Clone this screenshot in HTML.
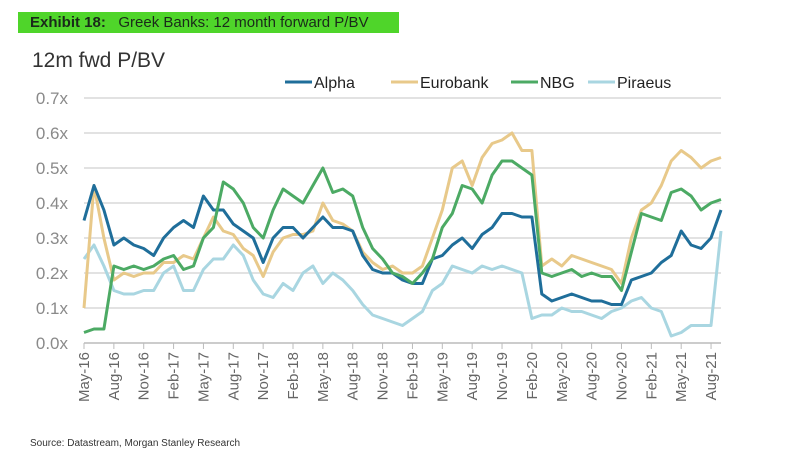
<!DOCTYPE html>
<html><head><meta charset="utf-8"><style>
body{margin:0;background:#fff;font-family:"Liberation Sans",Arial,sans-serif;}
#wrap{position:relative;width:787px;height:472px;overflow:hidden;background:#fff;}
</style></head><body>
<div id="wrap">
<div style="position:absolute;left:18px;top:12px;width:381px;height:21px;background:#4fd52a;font-size:15px;line-height:21px;color:#1a2a1a;padding-left:12px;box-sizing:border-box;"><b>Exhibit 18:</b>&nbsp;&nbsp; Greek Banks: 12 month forward P/BV</div>
<svg id="chart" width="787" height="472" style="position:absolute;left:0;top:0"></svg>
<div style="position:absolute;left:30px;top:438px;font-size:10px;color:#333;">Source: Datastream, Morgan Stanley Research</div>
</div>
<script>
const seriesNames=["Alpha","Eurobank","NBG","Piraeus"];
const alphaValues=[.35,.45,.38,.28,.30,.28,.27,.25, .30,.33,.35,.33,.42,.38,.38,.34,.32,.30,.23,.30, .33,.33,.30,.33,.36,.33,.33,.32,.25,.21,.20,.20, .18,.17,.17,.24,.25,.28,.30,.27,.31,.33,.37,.37, .36,.36,.14,.12,.13,.14,.13,.12,.12,.11,.11,.18, .19,.20,.23,.25,.32,.28,.27,.30,.38];
const eurobankValues=[.10,.45,.30,.18,.20,.19,.20,.20, .23,.23,.25,.24,.30,.36,.32,.31,.27,.25,.19,.26, .30,.31,.31,.32,.40,.35,.34,.32,.26,.23,.21,.22, .20,.20,.22,.30,.38,.50,.52,.45,.53,.57,.58,.60, .55,.55,.22,.24,.22,.25,.24,.23,.22,.21,.17,.30, .38,.40,.45,.52,.55,.53,.50,.52,.53];
const nbgValues=[.03,.04,.04,.22,.21,.22,.21,.22, .24,.25,.21,.22,.30,.33,.46,.44,.40,.33,.30,.38, .44,.42,.40,.45,.50,.43,.44,.42,.33,.27,.24,.20, .19,.17,.20,.24,.33,.37,.45,.44,.40,.48,.52,.52, .50,.48,.20,.19,.20,.21,.19,.20,.19,.19,.15,.26, .37,.36,.35,.43,.44,.42,.38,.40,.41];
const piraeusValues=[.24,.28,.22,.15,.14,.14,.15,.15, .20,.22,.15,.15,.21,.24,.24,.28,.25,.18,.14,.13, .17,.15,.20,.22,.17,.20,.18,.15,.11,.08,.07,.06, .05,.07,.09,.15,.17,.22,.21,.20,.22,.21,.22,.21, .20,.07,.08,.08,.10,.09,.09,.08,.07,.09,.10,.12, .13,.10,.09,.02,.03,.05,.05,.05,.32];
const tickLabels=["May-16","Aug-16","Nov-16","Feb-17","May-17","Aug-17","Nov-17","Feb-18","May-18","Aug-18","Nov-18","Feb-19","May-19","Aug-19","Nov-19","Feb-20","May-20","Aug-20","Nov-20","Feb-21","May-21","Aug-21"];
const yTicks=[0,0.1,0.2,0.3,0.4,0.5,0.6,0.7];
const colors=["#1f6e9a","#e8c98a","#4caa64","#a9d6e1"];
const NS="http://www.w3.org/2000/svg";
const svg=document.getElementById('chart');
const X0=84,X1=721,Y0=343,Y1=98,nM=alphaValues.length;
const xs=i=>X0+i*(X1-X0)/(nM-1);
const ys=v=>Y0-(v/0.7)*(Y0-Y1);
function mk(t,a){const e=document.createElementNS(NS,t);for(const k in a)e.setAttribute(k,a[k]);svg.appendChild(e);return e;}
let t=mk('text',{x:32,y:67,'font-size':21,fill:'#333'});t.textContent="12m fwd P/BV";

yTicks.forEach(v=>{
 if(v>0){const g=mk('line',{x1:X0,x2:X1,y1:ys(v),y2:ys(v),stroke:'#d9d9d9','stroke-width':1.5});
 }
 const l=mk('text',{x:68,y:ys(v)+6,'font-size':17,fill:'#8a8a8a','text-anchor':'end'});l.textContent=v.toFixed(1)+"x";
 
});
const ax=mk('line',{x1:X0,x2:X1,y1:Y0,y2:Y0,stroke:'#bbb','stroke-width':1.5});

tickLabels.forEach((s,i)=>{
 const x=xs(i*3);
 const tk=mk('line',{x1:x,x2:x,y1:Y0,y2:Y0+6,stroke:'#bbb','stroke-width':1});
 
 const l=mk('text',{x:0,y:0,'font-size':15,fill:'#666','text-anchor':'end',transform:`translate(${x+5},${Y0+9}) rotate(-90)`});l.textContent=s;
 
});
const data=[alphaValues,eurobankValues,nbgValues,piraeusValues];
[3,1,0,2].forEach(k=>{
 const d=data[k].map((v,i)=>(i?'L':'M')+xs(i).toFixed(1)+','+ys(v).toFixed(1)).join('');
 const p=mk('path',{d:d,fill:'none',stroke:colors[k],'stroke-width':3,'stroke-linejoin':'round'});
 
 
});
const legX=[285,391,511,588];
seriesNames.forEach((n,k)=>{
 const l=mk('line',{x1:legX[k],x2:legX[k]+27,y1:82,y2:82,stroke:colors[k],'stroke-width':3});
 
 const tx=mk('text',{x:legX[k]+29,y:88,'font-size':16,fill:'#222'});tx.textContent=n;
 
});
</script>
</body></html>
